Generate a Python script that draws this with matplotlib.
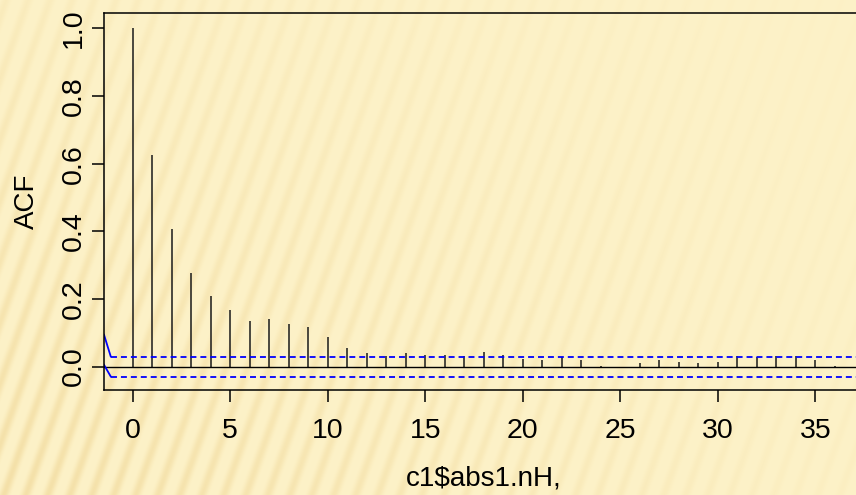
import numpy as np
import matplotlib.pyplot as plt

plt.rcParams['font.family'] = ['Liberation Sans', 'DejaVu Sans']

# ACF values, lags 0..36
lags = list(range(37))
acf = [1.0, 0.627, 0.408, 0.278, 0.210, 0.168, 0.136, 0.141, 0.127, 0.118,
       0.087, 0.055, 0.039, 0.031, 0.039, 0.034, 0.034, 0.031, 0.043, 0.034,
       0.022, 0.018, 0.028, 0.018, 0.001, -0.005, 0.010, 0.018, 0.014, 0.010,
       0.014, 0.032, 0.028, 0.032, 0.032, 0.018, 0.001]
ci = 0.0296
x_ticks = [0, 5, 10, 15, 20, 25, 30, 35]
y_ticks = [0.0, 0.2, 0.4, 0.6, 0.8, 1.0]

W, H = 856, 495
fig = plt.figure(figsize=(W / 100, H / 100), dpi=100)

# striped slide background
bg = fig.add_axes([0, 0, 1, 1], zorder=0)
yy, xx = np.mgrid[0:H, 0:W]
phase = (xx + 0.36 * yy) / 22.0 * 2 * np.pi
band = (0.5 + 0.5 * np.sin(phase)) ** 2
amp = np.clip(1.0 - xx / 1000.0, 0.2, 1) * (0.35 + 0.65 * yy / H)
base = np.array([253, 242, 200]) / 255.0
dark = np.array([244, 224, 168]) / 255.0
img = base + (dark - base) * (band * amp)[..., None]
bg.imshow(img, aspect='auto', extent=[0, 1, 0, 1], interpolation='bilinear')
bg.axis('off')

# main axes (the right edge runs off the picture, as in the original)
x0, x1 = 104, 863
ytop, ybot = 12.7, 390
ax = fig.add_axes([x0 / W, 1 - ybot / H, (x1 - x0) / W, (ybot - ytop) / H], zorder=1)
ax.set_facecolor('none')

ax.vlines(lags, 0, acf, color='#1a1a1a', linewidth=1.1)
ax.axhline(0, color='black', linewidth=1.0)

xl, xd = -1.466, -1.12
ax.plot([xl, xd], [0.094, ci], color='blue', linewidth=1.3)
ax.plot([xl, xd], [0.005, -ci], color='blue', linewidth=1.3)
ax.plot([xd, 40], [ci, ci], color='blue', linewidth=1.3, dashes=(3.3, 2.2))
ax.plot([xd, 40], [-ci, -ci], color='blue', linewidth=1.3, dashes=(3.3, 2.2))

ax.set_xlim(xl, 37.44)
ax.set_ylim(-0.0695, 1.0467)
ax.set_xticks(x_ticks)
ax.set_yticks(y_ticks)
ax.set_yticklabels([f'{v:.1f}' for v in y_ticks], rotation=90, va='center')

for s in ax.spines.values():
    s.set_linewidth(1.1)
ax.tick_params(direction='out', length=8.5, width=1.1, labelsize=20.5)
ax.tick_params(axis='x', pad=12)
ax.tick_params(axis='y', pad=4)

ax.set_xlabel(r'c1\$abs1.nH,', fontsize=20, labelpad=15)
ax.set_ylabel('ACF', fontsize=20, labelpad=15)

fig.savefig('out.png', dpi=100)
